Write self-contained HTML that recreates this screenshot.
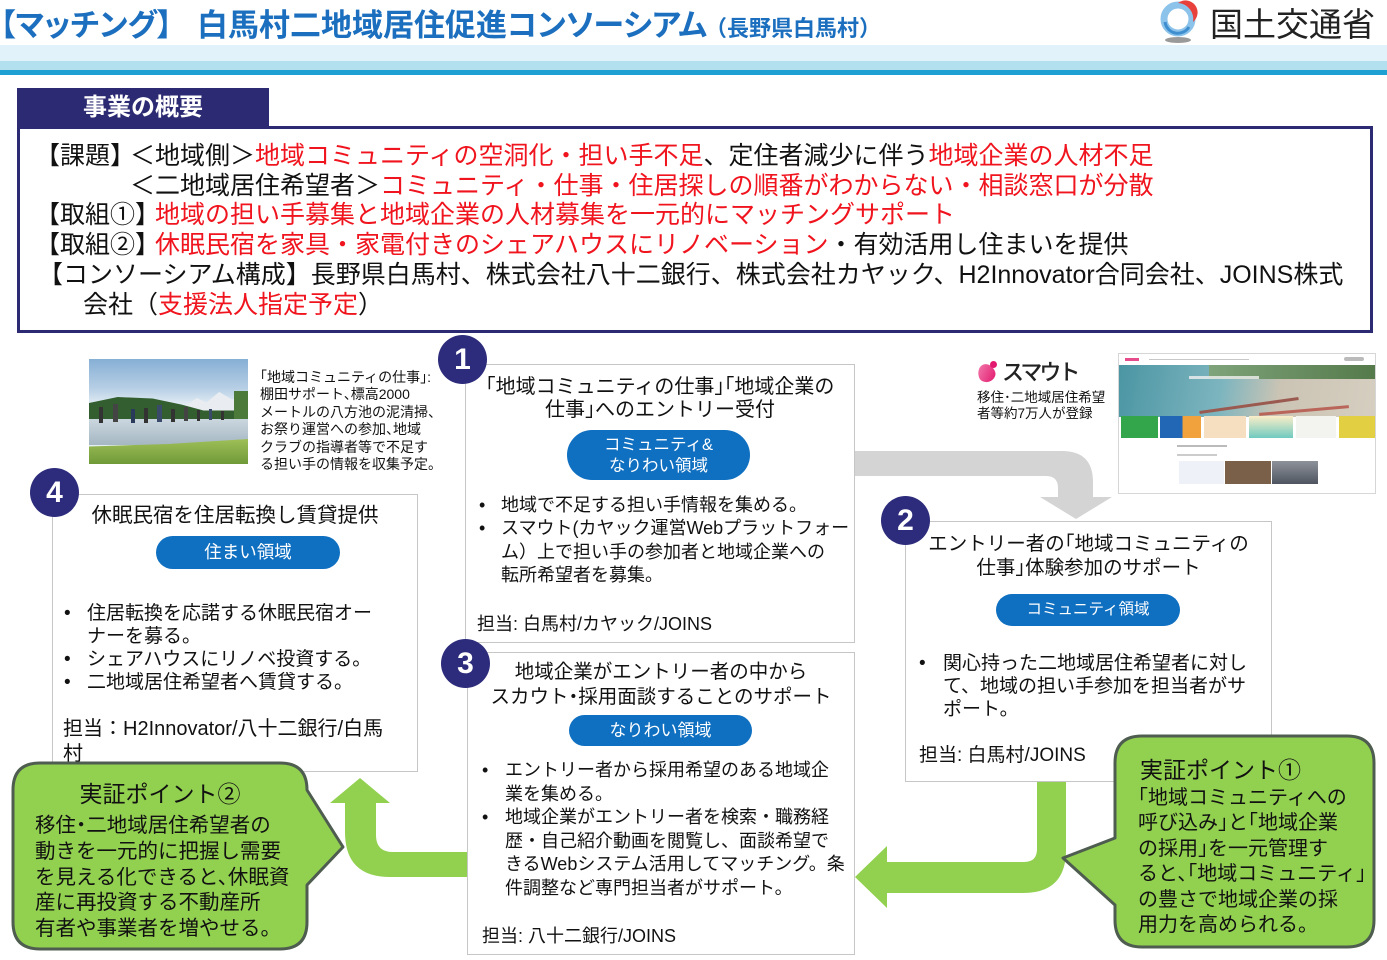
<!DOCTYPE html>
<html><head><meta charset="utf-8">
<style>
*{margin:0;padding:0;box-sizing:border-box}
body{width:1387px;height:960px;position:relative;overflow:hidden;background:#fff;font-family:"Liberation Sans","Noto Sans CJK JP",sans-serif;color:#111}
.a{position:absolute;white-space:nowrap}
.ov{font-size:25px;line-height:30px;color:#111;z-index:2}
.r{color:#f0141e}
.box{position:absolute;background:#fff;border:1.5px solid #c6c6c6;z-index:2}
.badge{position:absolute;width:49px;height:49px;border-radius:50%;background:#2d2c7c;color:#fff;font:bold 30px/49px "Liberation Sans",sans-serif;text-align:center;z-index:3}
.pill{position:absolute;background:#0f6fc0;color:#fff;border-radius:30px;text-align:center;z-index:3;white-space:nowrap}
.h{font-feature-settings:"halt"}
.t{z-index:3;text-align:center}
.z3{z-index:3}
.z5{z-index:6}
</style></head><body>

<!-- header -->
<div class="a" style="left:0;top:7px;font-weight:bold;font-size:31px;line-height:38px;color:#1b6fbe;font-feature-settings:'palt'">【マッチング】</div>
<div class="a" style="left:197px;top:7px;font-weight:bold;font-size:31px;line-height:38px;color:#1b6fbe;font-feature-settings:'palt'">白馬村二地域居住促進コンソーシアム</div>
<div class="a" style="left:705px;top:15px;font-weight:bold;font-size:22px;line-height:28px;color:#1b6fbe">（長野県白馬村）</div>

<svg class="a" style="left:1155px;top:0" width="48" height="46" viewBox="0 0 48 46">
  <circle cx="23" cy="19" r="14" fill="none" stroke="#8cc3ea" stroke-width="7"/>
  <path d="M10 22 A13 13 0 0 0 34 27" fill="none" stroke="#3f8fd0" stroke-width="3"/>
  <path d="M23 3 A16 16 0 0 1 38 22 A12 12 0 0 0 23 3Z" fill="#e8413b"/>
  <ellipse cx="23" cy="40" rx="13" ry="3" fill="#9a9a9a"/>
</svg>
<div class="a" style="left:1210px;top:5px;font-size:33px;line-height:40px;color:#222">国土交通省</div>

<div class="a" style="left:0;top:45px;width:1387px;height:16px;background:#e1f2fa"></div>
<div class="a" style="left:0;top:61px;width:1387px;height:9px;background:#b3e0ef"></div>
<div class="a" style="left:0;top:70px;width:1387px;height:5px;background:#1ea0d3"></div>

<!-- overview -->
<div class="a" style="left:17px;top:88px;width:252px;height:40px;background:#2b2a72;color:#fff;font-weight:bold;font-size:24px;line-height:40px;text-align:center;z-index:3">事業の概要</div>
<div class="a" style="left:17px;top:126px;width:1356px;height:207px;border:3px solid #2b2a72;background:#fff;z-index:1"></div>

<div class="a ov" style="left:35px;top:141px">【課題】</div>
<div class="a ov" style="left:130px;top:141px">＜地域側＞<span class="r">地域コミュニティの空洞化・担い手不足</span>、定住者減少に伴う<span class="r">地域企業の人材不足</span></div>
<div class="a ov" style="left:130px;top:171px">＜二地域居住希望者＞<span class="r">コミュニティ・仕事・住居探しの順番がわからない・相談窓口が分散</span></div>
<div class="a ov" style="left:35px;top:200px">【取組①】</div>
<div class="a ov r" style="left:155px;top:200px">地域の担い手募集と地域企業の人材募集を一元的にマッチングサポート</div>
<div class="a ov" style="left:35px;top:230px">【取組②】</div>
<div class="a ov" style="left:155px;top:230px"><span class="r">休眠民宿を家具・家電付きのシェアハウスにリノベーション</span>・有効活用し住まいを提供</div>
<div class="a ov" style="left:38px;top:260px">【コンソーシアム構成】長野県白馬村、株式会社八十二銀行、株式会社カヤック、H2Innovator合同会社、JOINS株式</div>
<div class="a ov" style="left:83px;top:290px">会社（<span class="r">支援法人指定予定</span>）</div>

<!-- photo -->
<div class="a" style="left:89px;top:359px;width:159px;height:105px;overflow:hidden;background:linear-gradient(#86afd5 0%,#b7cfe5 28%,#e4edf4 44%,#e4edf4 100%)">
  <div class="a" style="left:95px;top:30px;width:64px;height:30px;background:#e9edf1;clip-path:polygon(0 60%,20% 30%,35% 45%,55% 10%,75% 35%,100% 20%,100% 100%,0 100%)"></div>
  <div class="a" style="left:0;top:35px;width:159px;height:30px;background:#335f30;clip-path:polygon(0 30%,18% 10%,40% 15%,58% 35%,72% 55%,100% 55%,100% 100%,0 100%)"></div>
  <div class="a" style="left:145px;top:32px;width:14px;height:30px;background:#4c7a3a"></div>
  <div class="a" style="left:0;top:60px;width:159px;height:26px;background:linear-gradient(#cbd7df,#a5b7c2)"></div>
  <div class="a" style="left:10px;top:48px;width:4px;height:16px;background:#333"></div>
  <div class="a" style="left:24px;top:45px;width:5px;height:18px;background:#444"></div>
  <div class="a" style="left:42px;top:50px;width:4px;height:14px;background:#2a3a5a"></div>
  <div class="a" style="left:55px;top:49px;width:4px;height:15px;background:#333"></div>
  <div class="a" style="left:68px;top:46px;width:5px;height:17px;background:#3a4a6a"></div>
  <div class="a" style="left:82px;top:50px;width:4px;height:13px;background:#333"></div>
  <div class="a" style="left:95px;top:48px;width:4px;height:14px;background:#444"></div>
  <div class="a" style="left:108px;top:51px;width:3px;height:11px;background:#333"></div>
  <div class="a" style="left:120px;top:50px;width:3px;height:11px;background:#3a4a6a"></div>
  <div class="a" style="left:132px;top:52px;width:3px;height:9px;background:#333"></div>
  <div class="a" style="left:0;top:80px;width:159px;height:25px;background:linear-gradient(#9fbf58,#6f9a38);clip-path:polygon(0 30%,50% 20%,100% 0,100% 100%,0 100%)"></div>
</div>
<div class="a h" style="left:260px;top:369px;font-size:14px;line-height:17.4px;color:#111">「地域コミュニティの仕事」:<br>棚田サポート、標高2000<br>メートルの八方池の泥清掃、<br>お祭り運営への参加、地域<br>クラブの指導者等で不足す<br>る担い手の情報を収集予定。</div>

<!-- smout -->
<div class="a" style="left:978px;top:364px;width:17px;height:18px;border-radius:50% 50% 50% 50%/60% 60% 40% 40%;background:linear-gradient(135deg,#f37cae,#e2196e);transform:rotate(-20deg)"></div>
<div class="a" style="left:990px;top:361px;width:7px;height:7px;border-radius:50%;background:#e2196e"></div>
<div class="a" style="left:1002px;top:359px;font-size:22px;line-height:28px;letter-spacing:-3px;color:#222;font-weight:500">スマウト</div>
<div class="a" style="left:977px;top:390px;font-size:13.5px;line-height:15.5px;color:#111">移住･二地域居住希望<br>者等約7万人が登録</div>

<div class="a" style="left:1118px;top:353px;width:258px;height:141px;border:1px solid #d6d6d6;background:#fff;overflow:hidden">
  <div class="a" style="left:6px;top:4px;width:14px;height:3px;background:#e64b8b"></div>
  <div class="a" style="left:30px;top:5px;width:100px;height:1px;background:#c8c8c8"></div>
  <div class="a" style="left:225px;top:3px;width:20px;height:4px;background:#bbb;border-radius:2px"></div>
  <div class="a" style="left:0;top:11px;width:258px;height:52px;background:linear-gradient(100deg,#4b95a3 0%,#7db5bf 40%,#cbc4b4 62%,#d6cfc1 100%)"></div>
  <div class="a" style="left:90px;top:11px;width:168px;height:14px;background:linear-gradient(90deg,#7fa37a,#54794a)"></div>
  <div class="a" style="left:70px;top:22px;width:70px;height:3px;background:#f0f0f0;opacity:.8"></div>
  <div class="a" style="left:80px;top:50px;width:100px;height:3px;background:#9b5a50;transform:rotate(-8deg)"></div>
  <div class="a" style="left:140px;top:55px;width:90px;height:3px;background:#b9655a;transform:rotate(-5deg)"></div>
  <div class="a" style="left:2px;top:62px;width:37px;height:22px;background:#33a54a"></div>
  <div class="a" style="left:41px;top:62px;width:41px;height:22px;background:linear-gradient(90deg,#2267b5 55%,#f2a23c 55%)"></div>
  <div class="a" style="left:85px;top:62px;width:42px;height:22px;background:#f6dfc0"></div>
  <div class="a" style="left:130px;top:62px;width:44px;height:22px;background:linear-gradient(#fbeec8,#6fcac0)"></div>
  <div class="a" style="left:177px;top:62px;width:40px;height:22px;background:#f3f3f0"></div>
  <div class="a" style="left:220px;top:62px;width:38px;height:22px;background:#e3d042"></div>
  <div class="a" style="left:58px;top:91px;width:50px;height:2px;background:#bbb"></div>
  <div class="a" style="left:58px;top:100px;width:40px;height:2px;background:#ccc"></div>
  <div class="a" style="left:60px;top:107px;width:45px;height:23px;background:#eef2f8"></div>
  <div class="a" style="left:106px;top:107px;width:46px;height:23px;background:#7a6048"></div>
  <div class="a" style="left:153px;top:107px;width:46px;height:23px;background:linear-gradient(#8d929a,#4f5560)"></div>
</div>

<!-- arrows (behind boxes) -->
<svg class="a" style="left:0;top:0;z-index:1" width="1387" height="960">
  <path d="M 850 451 L 1062 451 Q 1093 451 1093 482 L 1093 497 L 1112 497 L 1076 519 L 1040 497 L 1058 497 L 1058 488 Q 1058 476 1046 476 L 850 476 Z" fill="#d4d4d4"/>
  <path d="M 472 852 L 393 852 Q 376 852 376 835 L 376 803 L 390 803 L 360 778 L 330 803 L 345 803 L 345 832 Q 345 877 390 877 L 472 877 Z" fill="#92d050"/>
  <path d="M 1037 775 L 1066 775 L 1066 850 Q 1066 893 1023 893 L 887 893 L 887 908 L 855 877 L 887 846 L 887 862 L 1024 862 Q 1037 862 1037 849 Z" fill="#92d050"/>
</svg>

<!-- box 1 -->
<div class="box" style="left:465px;top:364px;width:390px;height:279px"></div>
<div class="a t h" style="left:465px;top:376px;width:390px;font-size:20px;line-height:23px">「地域コミュニティの仕事」「地域企業の<br>仕事」へのエントリー受付</div>
<div class="pill" style="left:567px;top:430px;width:183px;height:50px;font-size:16.5px;line-height:21px;padding-top:5px">コミュニティ&amp;<br>なりわい領域</div>
<div class="a z3" style="left:479px;top:494px;font-size:18px;line-height:23.4px">•<br>•</div>
<div class="a z3" style="left:501px;top:494px;font-size:18px;line-height:23.4px">地域で不足する担い手情報を集める。<br>スマウト(カヤック運営Webプラットフォー<br>ム）上で担い手の参加者と地域企業への<br>転所希望者を募集。</div>
<div class="a z3" style="left:477px;top:612px;font-size:18px;line-height:24px">担当: 白馬村/カヤック/JOINS</div>

<!-- box 3 -->
<div class="box" style="left:467px;top:652px;width:388px;height:303px"></div>
<div class="a t h" style="left:467px;top:660px;width:388px;font-size:19.5px;line-height:25px">地域企業がエントリー者の中から<br>スカウト・採用面談することのサポート</div>
<div class="pill" style="left:569px;top:715px;width:183px;height:31px;font-size:17px;line-height:31px">なりわい領域</div>
<div class="a z3" style="left:482px;top:759px;font-size:18px;line-height:23.6px">•<br><br>•</div>
<div class="a z3" style="left:505px;top:759px;font-size:18px;line-height:23.6px">エントリー者から採用希望のある地域企<br>業を集める。<br>地域企業がエントリー者を検索・職務経<br>歴・自己紹介動画を閲覧し、面談希望で<br>きるWebシステム活用してマッチング。条<br>件調整など専門担当者がサポート。</div>
<div class="a z3" style="left:482px;top:924px;font-size:18px;line-height:24px">担当: 八十二銀行/JOINS</div>

<!-- box 4 -->
<div class="box" style="left:52px;top:494px;width:366px;height:278px"></div>
<div class="a t h" style="left:52px;top:503px;width:366px;font-size:20.5px;line-height:26px">休眠民宿を住居転換し賃貸提供</div>
<div class="pill" style="left:156px;top:536px;width:184px;height:33px;font-size:17.5px;line-height:33px">住まい領域</div>
<div class="a z3" style="left:64px;top:602px;font-size:19px;line-height:23px">•<br><br>•<br>•</div>
<div class="a z3" style="left:87px;top:602px;font-size:19px;line-height:23px">住居転換を応諾する休眠民宿オー<br>ナーを募る。<br>シェアハウスにリノベ投資する。<br>二地域居住希望者へ賃貸する。</div>
<div class="a z3" style="left:63px;top:717px;font-size:20px;line-height:24.5px">担当：H2Innovator/八十二銀行/白馬<br>村</div>

<!-- box 2 -->
<div class="box" style="left:905px;top:521px;width:367px;height:261px"></div>
<div class="a t h" style="left:905px;top:532px;width:367px;font-size:19.5px;line-height:24px">エントリー者の「地域コミュニティの<br>仕事」体験参加のサポート</div>
<div class="pill" style="left:996px;top:594px;width:184px;height:32px;font-size:15.5px;line-height:32px">コミュニティ領域</div>
<div class="a z3" style="left:919px;top:652px;font-size:19px;line-height:23px">•</div>
<div class="a z3" style="left:943px;top:652px;font-size:19px;line-height:23px">関心持った二地域居住希望者に対し<br>て、地域の担い手参加を担当者がサ<br>ポート。</div>
<div class="a z3" style="left:919px;top:744px;font-size:19px;line-height:24px">担当: 白馬村/JOINS</div>

<!-- badges -->
<div class="badge" style="left:438px;top:335px">1</div>
<div class="badge" style="left:881px;top:496px">2</div>
<div class="badge" style="left:441px;top:639px">3</div>
<div class="badge" style="left:30px;top:468px">4</div>

<!-- callouts -->
<svg class="a" style="left:0;top:0;z-index:5" width="1387" height="960">
  <path d="M 40 763 L 280 763 Q 307 763 307 790 L 343 847 L 307 885 L 307 922 Q 307 949 280 949 L 40 949 Q 13 949 13 922 L 13 790 Q 13 763 40 763 Z" fill="#92d050" stroke="#4e5d4f" stroke-width="3" stroke-linejoin="round"/>
  <path d="M 1142 736 L 1347 736 Q 1374 736 1374 763 L 1374 920 Q 1374 947 1347 947 L 1142 947 Q 1115 947 1115 920 L 1115 905 L 1063 858 L 1115 838 L 1115 763 Q 1115 736 1142 736 Z" fill="#92d050" stroke="#4e5d4f" stroke-width="3" stroke-linejoin="round"/>
</svg>
<div class="a z5" style="left:13px;top:779px;width:294px;text-align:center;font-size:23px;line-height:30px">実証ポイント②</div>
<div class="a z5 h" style="left:35px;top:813px;font-size:20.5px;line-height:25.8px">移住・二地域居住希望者の<br>動きを一元的に把握し需要<br>を見える化できると、休眠資<br>産に再投資する不動産所<br>有者や事業者を増やせる。</div>
<div class="a z5" style="left:1140px;top:755px;font-size:23px;line-height:30px">実証ポイント①</div>
<div class="a z5 h" style="left:1138px;top:786px;font-size:20px;line-height:25.4px">「地域コミュニティへの<br>呼び込み」と「地域企業<br>の採用」を一元管理す<br>ると、「地域コミュニティ」<br>の豊さで地域企業の採<br>用力を高められる。</div>

</body></html>
